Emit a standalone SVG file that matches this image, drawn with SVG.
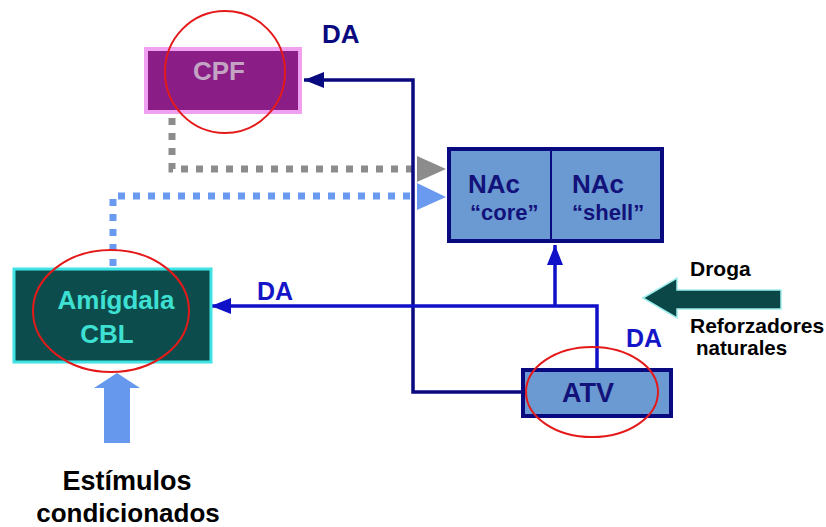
<svg xmlns="http://www.w3.org/2000/svg" width="826" height="527" viewBox="0 0 826 527">
<defs>
<style>
.t{font-family:"Liberation Sans",Arial,sans-serif;font-weight:bold}
.navy{stroke:#0A0A80;stroke-width:3.5;fill:none}
.blue{stroke:#1010C8;stroke-width:3.5;fill:none}
.ring{fill:none;stroke:#E41A1A;stroke-width:2}
.dotg{stroke:#8C8C8C;stroke-width:7;fill:none;stroke-dasharray:7 8}
.dotb{stroke:#6A9AF0;stroke-width:7;fill:none;stroke-dasharray:7 8}
</style>
<marker id="ahNavy" viewBox="0 0 20 16" refX="20" refY="8" markerWidth="20" markerHeight="16" markerUnits="userSpaceOnUse" orient="auto"><path d="M0,0 L20,8 L0,16 Z" fill="#0A0A80"/></marker>
<marker id="ahBlue" viewBox="0 0 20 16" refX="20" refY="8" markerWidth="20" markerHeight="16" markerUnits="userSpaceOnUse" orient="auto"><path d="M0,0 L20,8 L0,16 Z" fill="#1010C8"/></marker>
</defs>
<rect width="826" height="527" fill="#FFFFFF"/>

<g id="connectors">
<path class="dotg" d="M172,118 V169 H418"/>
<polygon points="417,156 446,169 417,182" fill="#8C8C8C"/>
<path class="dotb" d="M113,266 V196 H418"/>
<polygon points="417,183 446,197 417,210" fill="#6A9AF0"/>
<path class="navy" d="M521,392 H413 V80 H304" marker-end="url(#ahNavy)"/>
<path class="blue" d="M597,368 V306 H211" marker-end="url(#ahBlue)"/>
<path class="blue" d="M555,306 V245" marker-end="url(#ahBlue)"/>
</g>

<g id="CPF">
<rect x="144" y="47" width="158" height="67" fill="#F0A0F0"/>
<rect x="148" y="51" width="150" height="59" fill="#8A1E86"/>
<text class="t" x="219" y="80" font-size="26" fill="#C4A4C4" text-anchor="middle">CPF</text>
</g>

<g id="NAc">
<rect x="449" y="149" width="213" height="92" fill="#6B9AD2" stroke="#0A0A80" stroke-width="4"/>
<line x1="551" y1="149" x2="551" y2="241" stroke="#0A0A80" stroke-width="2"/>
<text class="t" x="468" y="193" font-size="26" fill="#12127A">NAc</text>
<text class="t" x="470" y="220" font-size="22" fill="#12127A">“core”</text>
<text class="t" x="572" y="193" font-size="26" fill="#12127A">NAc</text>
<text class="t" x="572" y="220" font-size="22" fill="#12127A">“shell”</text>
</g>

<g id="Amigdala">
<rect x="14" y="269" width="197" height="93" fill="#0D4C4C" stroke="#3FE3E3" stroke-width="3"/>
<text class="t" x="116" y="309" font-size="26" fill="#3DE0D2" text-anchor="middle">Amígdala</text>
<text class="t" x="107" y="343" font-size="26" fill="#3DE0D2" text-anchor="middle">CBL</text>
</g>

<g id="ATV">
<rect x="523" y="370" width="148" height="46" fill="#6B9AD2" stroke="#0A0A80" stroke-width="4"/>
<text class="t" x="588" y="402" font-size="27" fill="#12127A" text-anchor="middle">ATV</text>
</g>

<g id="Droga">
<polygon points="643,298 677,278 677,290 781,290 781,309 677,309 677,318" fill="#0B4747" stroke="#9EEDED" stroke-width="1.5"/>
<text class="t" x="690" y="276" font-size="21" fill="#000000">Droga</text>
<text class="t" x="690" y="333" font-size="21" fill="#000000">Reforzadores</text>
<text class="t" x="696" y="355" font-size="20.5" fill="#000000">naturales</text>
</g>

<g id="Estimulos">
<polygon points="117,373 140,388 130,388 130,443 104,443 104,388 94,388" fill="#6699EE"/>
<text class="t" x="127" y="490" font-size="27" fill="#000000" text-anchor="middle">Estímulos</text>
<text class="t" x="128" y="522" font-size="26" fill="#000000" text-anchor="middle">condicionados</text>
</g>

<g id="labels">
<text class="t" x="322" y="43" font-size="26" fill="#0A0A80">DA</text>
<text class="t" x="257" y="300" font-size="25" fill="#1515C8">DA</text>
<text class="t" x="626" y="347" font-size="25" fill="#1515C8">DA</text>
</g>

<g id="rings">
<ellipse class="ring" cx="225" cy="72" rx="60" ry="61"/>
<ellipse class="ring" cx="111" cy="311" rx="78" ry="61"/>
<ellipse class="ring" cx="592" cy="392" rx="66" ry="45"/>
</g>
</svg>
